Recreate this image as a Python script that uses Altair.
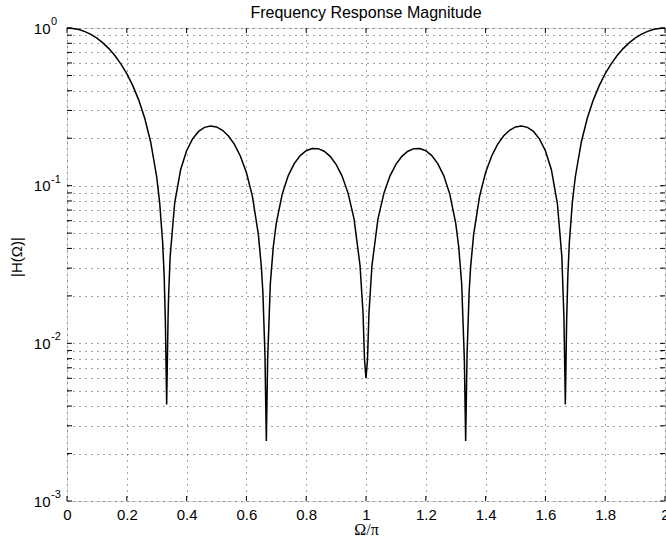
import altair as alt
import pandas as pd

# Curve (Omega/pi, |H|)
freq = [0.00, 0.02, 0.04, 0.06, 0.08, 0.10, 0.12, 0.14, 0.16, 0.18,
        0.20, 0.22, 0.24, 0.26, 0.28, 0.30, 0.31, 0.32, 0.325, 0.329,
        0.3333, 0.338, 0.34, 0.345, 0.36, 0.38, 0.40, 0.42, 0.44, 0.46,
        0.48, 0.50, 0.52, 0.54, 0.56, 0.58, 0.60, 0.62, 0.64, 0.65,
        0.655, 0.662, 0.6667, 0.671, 0.68, 0.69, 0.70, 0.72, 0.74, 0.76,
        0.78, 0.80, 0.82, 0.84, 0.86, 0.88, 0.90, 0.92, 0.94, 0.96,
        0.98, 0.99, 0.995, 1.00, 1.005, 1.01, 1.02, 1.04, 1.06, 1.08,
        1.10, 1.12, 1.14, 1.16, 1.18, 1.20, 1.22, 1.24, 1.26, 1.28,
        1.30, 1.31, 1.32, 1.329, 1.3333, 1.338, 1.345, 1.35, 1.36, 1.38,
        1.40, 1.42, 1.44, 1.46, 1.48, 1.50, 1.52, 1.54, 1.56, 1.58,
        1.60, 1.62, 1.64, 1.655, 1.662, 1.6667, 1.671, 1.675, 1.68, 1.69,
        1.70, 1.72, 1.74, 1.76, 1.78, 1.80, 1.82, 1.84, 1.86, 1.88,
        1.90, 1.92, 1.94, 1.96, 1.98, 2.00]
mag = [1.0, 0.9942, 0.9771, 0.9490, 0.9103, 0.8619, 0.8048, 0.7400, 0.6689, 0.5927,
       0.5130, 0.4312, 0.3489, 0.2675, 0.1886, 0.1135, 0.0777, 0.04336, 0.02676, 0.01378,
       0.0041, 0.01447, 0.02056, 0.03547, 0.07735, 0.1263, 0.1667, 0.1982, 0.2208, 0.2343,
       0.2392, 0.2357, 0.2246, 0.2066, 0.1826, 0.1538, 0.1211, 0.0858, 0.0491, 0.03058,
       0.02134, 0.008516, 0.0024, 0.007812, 0.02384, 0.04113, 0.0578, 0.0887, 0.1158, 0.1381,
       0.1552, 0.1667, 0.1722, 0.1717, 0.1654, 0.1535, 0.1365, 0.1150, 0.0897, 0.0615,
       0.03125, 0.01569, 0.0079, 0.006, 0.0079, 0.01569, 0.03125, 0.0615, 0.0897, 0.1150,
       0.1365, 0.1535, 0.1654, 0.1717, 0.1722, 0.1667, 0.1552, 0.1381, 0.1158, 0.0887,
       0.0578, 0.04113, 0.02384, 0.007812, 0.0024, 0.008516, 0.02134, 0.03058, 0.0491, 0.0858,
       0.1211, 0.1538, 0.1826, 0.2066, 0.2246, 0.2357, 0.2392, 0.2343, 0.2208, 0.1982,
       0.1667, 0.1263, 0.07735, 0.03547, 0.01447, 0.0041, 0.01378, 0.02676, 0.04336, 0.0777,
       0.1135, 0.1886, 0.2675, 0.3489, 0.4312, 0.5130, 0.5927, 0.6689, 0.7400, 0.8048,
       0.8619, 0.9103, 0.9490, 0.9771, 0.9942, 1.0]
n = min(len(freq), len(mag))
freq, mag = freq[:n], mag[:n]

x_ticks = [0.0, 0.2, 0.4, 0.6, 0.8, 1.0, 1.2, 1.4, 1.6, 1.8, 2.0]
y_grid = [0.001, 0.002, 0.003, 0.004, 0.005, 0.006, 0.007, 0.008, 0.009,
          0.01, 0.02, 0.03, 0.04, 0.05, 0.06, 0.07, 0.08, 0.09,
          0.1, 0.2, 0.3, 0.4, 0.5, 0.6, 0.7, 0.8, 0.9, 1.0]
decades = [1.0, 0.1, 0.01, 0.001]
exponents = ["0", "-1", "-2", "-3"]

W, H = 598, 473
FONT = "Liberation Sans"

curve = pd.DataFrame({"f": freq, "m": mag})
xt = pd.DataFrame({"f": x_ticks})
yt = pd.DataFrame({"m": y_grid})
ex = pd.DataFrame({"m": decades, "e": exponents})

xscale = alt.Scale(domain=[0, 2], nice=False, zero=False)
yscale = alt.Scale(type="log", domain=[0.001, 1], nice=False)

x_axis = alt.Axis(values=x_ticks, grid=True, gridColor="#000000",
                  gridDash=[1, 5], gridOpacity=0.7, gridWidth=1,
                  ticks=False, domain=False,
                  labelExpr="'' + round(datum.value*10)/10",
                  labelFont=FONT, labelFontSize=15, labelColor="black",
                  labelPadding=6, labelFlush=False, labelOverlap=False,
                  title="Ω/π", titleFont="Liberation Serif",
                  titleFontSize=16, titleFontWeight="normal",
                  titleColor="black", titleY=33,
                  titleBaseline="alphabetic")
y_axis = alt.Axis(values=y_grid, grid=True, gridColor="#000000",
                  gridDash=[1, 5], gridOpacity=0.75, gridWidth=1,
                  ticks=False, domain=False,
                  labelExpr="abs(log(datum.value)/LN10 - round(log(datum.value)/LN10)) < 1e-6 ? '10' : ''",
                  labelFont=FONT, labelFontSize=15, labelColor="black",
                  labelPadding=17, labelOverlap=False, labelFlush=False,
                  title="|H(Ω)|", titleFont=FONT, titleFontSize=15,
                  titleFontWeight="normal", titleColor="black",
                  titleAngle=-90, titleX=-51, titleY=H / 2 - 8,
                  titleAlign="center", titleBaseline="middle")

X = alt.X("f:Q", scale=xscale, axis=x_axis, title="Ω/π")
Y = alt.Y("m:Q", scale=yscale, axis=y_axis, title="|H(Ω)|")

line = alt.Chart(curve).mark_line(color="black", strokeWidth=1.5).encode(
    x=X, y=Y, order="f:Q")

def xrule(y0, y1):
    return alt.Chart(xt).mark_rule(color="black", strokeWidth=1).encode(
        x=X, y=alt.value(y0), y2=alt.value(y1))

def yrule(x0, x1):
    return alt.Chart(yt).mark_rule(color="black", strokeWidth=1).encode(
        y=Y, x=alt.value(x0), x2=alt.value(x1))

exps = alt.Chart(ex).mark_text(align="left", baseline="alphabetic",
                               font=FONT, fontSize=11, color="black",
                               dx=-16, dy=-3).encode(
    y=Y, x=alt.value(0), text="e:N")

chart = alt.layer(
    line, xrule(H, H - 5), xrule(0, 5), yrule(0, 5), yrule(W, W - 5), exps
).properties(
    width=W, height=H,
    title=alt.TitleParams("Frequency Response Magnitude", font=FONT,
                          fontSize=16, fontWeight="normal", color="black",
                          offset=8, frame="group", dy=13),
    autosize=alt.AutoSizeParams(type="none"),
    padding={"left": 67, "top": 28, "right": 1, "bottom": 39},
).configure_view(stroke="black", strokeWidth=1).configure(background="white")

chart.save("out.html", embed_options={"renderer": "svg", "actions": False})
